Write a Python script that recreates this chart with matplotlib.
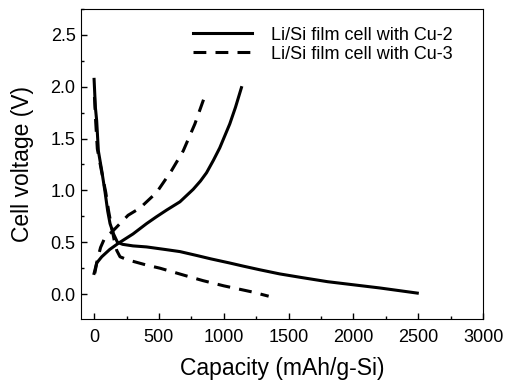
import matplotlib
matplotlib.use("Agg")
import matplotlib.pyplot as plt
from matplotlib.ticker import MultipleLocator

plt.rcParams['font.family'] = ['Liberation Sans', 'DejaVu Sans']

# Cu-2 (solid): discharge then charge
cu2_dis_x = [0, 10, 20, 33, 59, 85, 105, 123, 150, 180, 220, 300, 405, 550, 662, 800, 900,
             1046, 1150, 1277, 1431, 1600, 1800, 2000, 2200, 2492]
cu2_dis_y = [2.07, 1.80, 1.67, 1.38, 1.19, 0.98, 0.80, 0.68, 0.58, 0.50, 0.48, 0.465, 0.455,
             0.43, 0.41, 0.37, 0.34, 0.30, 0.27, 0.235, 0.195, 0.16, 0.12, 0.09, 0.06, 0.01]
cu2_chg_x = [0, 20, 59, 120, 187, 300, 405, 480, 559, 662, 764, 820, 867, 920, 969, 1046,
             1090, 1136]
cu2_chg_y = [0.20, 0.30, 0.36, 0.43, 0.49, 0.58, 0.68, 0.745, 0.81, 0.89, 1.01, 1.09, 1.17,
             1.29, 1.41, 1.64, 1.80, 1.99]

# Cu-3 (dashed): discharge then charge
cu3_dis_x = [3, 12, 25, 55, 90, 112, 130, 155, 175, 200, 260, 405, 508, 700, 840, 1000,
             1223, 1346]
cu3_dis_y = [1.90, 1.67, 1.40, 1.20, 0.98, 0.80, 0.68, 0.52, 0.42, 0.36, 0.33, 0.28, 0.25,
             0.18, 0.13, 0.08, 0.02, -0.02]
cu3_chg_x = [5, 25, 50, 85, 138, 262, 354, 482, 597, 687, 777, 854]
cu3_chg_y = [0.20, 0.33, 0.45, 0.55, 0.60, 0.76, 0.83, 0.98, 1.19, 1.38, 1.64, 1.91]

fig = plt.figure(figsize=(5.07, 3.83), dpi=100)
ax = fig.add_axes([0.160, 0.167, 0.793, 0.810])

lw = 2.2
dash = (4.2, 3.0)
ax.plot(cu2_dis_x, cu2_dis_y, color='black', lw=lw, label='Li/Si film cell with Cu-2')
ax.plot(cu2_chg_x, cu2_chg_y, color='black', lw=lw)
ax.plot(cu3_dis_x, cu3_dis_y, color='black', lw=lw, dashes=dash, label='Li/Si film cell with Cu-3')
ax.plot(cu3_chg_x, cu3_chg_y, color='black', lw=lw, dashes=dash)

ax.set_xlim(-100, 3000)
ax.set_ylim(-0.24, 2.75)
ax.xaxis.set_major_locator(MultipleLocator(500))
ax.xaxis.set_minor_locator(MultipleLocator(250))
ax.yaxis.set_major_locator(MultipleLocator(0.5))
ax.yaxis.set_minor_locator(MultipleLocator(0.25))
ax.tick_params(which='both', direction='in', labelsize=13, top=False, right=False)
ax.tick_params(which='major', length=4.3, width=1)
ax.tick_params(which='minor', length=2.5, width=1)
ax.tick_params(axis='x', pad=7)
ax.tick_params(axis='y', pad=4)

ax.set_xlabel('Capacity (mAh/g-Si)', fontsize=16.5, labelpad=8)
ax.set_ylabel('Cell voltage (V)', fontsize=16.5, labelpad=12)

ax.legend(loc='upper left', bbox_to_anchor=(0.278, 0.942), frameon=False,
          fontsize=13, handlelength=3.3, handletextpad=1.0, borderpad=0,
          borderaxespad=0, labelspacing=0.1)

fig.savefig('out.png', dpi=100)
